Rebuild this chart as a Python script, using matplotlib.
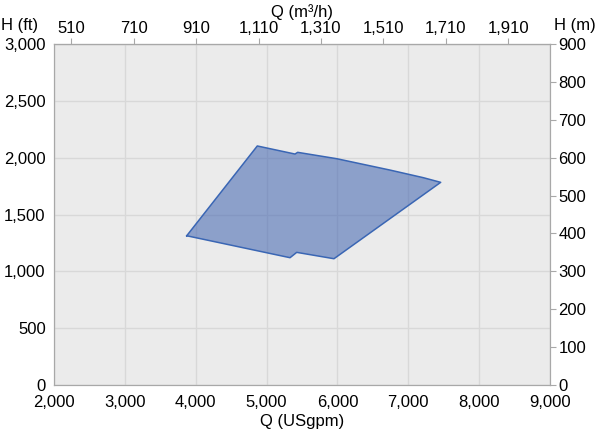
import matplotlib
matplotlib.use("Agg")
import matplotlib.pyplot as plt
from matplotlib.ticker import FuncFormatter

plt.rcParams["font.family"] = ["Liberation Sans", "DejaVu Sans"]

# envelope outline, Q in USgpm, H in ft
flow_gpm = [3873, 4869, 5401, 5439, 5990, 6742, 7212, 7457, 5951, 5425, 5331, 3873]
head_ft = [1313, 2103, 2032, 2047, 1991, 1891, 1824, 1783, 1111, 1167, 1120, 1313]

x_ticks = [2000, 3000, 4000, 5000, 6000, 7000, 8000, 9000]
y_ticks = [0, 500, 1000, 1500, 2000, 2500, 3000]
top_ticks = [510, 710, 910, 1110, 1310, 1510, 1710, 1910]
right_ticks = [0, 100, 200, 300, 400, 500, 600, 700, 800, 900]
GPM_PER_M3H = 4.4029

comma = FuncFormatter(lambda v, p: f"{v:,.0f}")
grey = "#a8a8a8"

fig = plt.figure(figsize=(6, 4.32), dpi=100)
ax = fig.add_axes([0.09, 0.1088, 0.8267, 0.7893])
ax.set_facecolor("#ebebeb")
ax.set_xlim(2000, 9000)
ax.set_ylim(0, 3000)
ax.set_xticks(x_ticks)
ax.set_yticks(y_ticks)
ax.xaxis.set_major_formatter(comma)
ax.yaxis.set_major_formatter(comma)
ax.grid(True, color="#d8d8d8", linewidth=1)
ax.set_axisbelow(True)
ax.tick_params(axis="y", length=0, labelsize=12, pad=6)
ax.tick_params(axis="x", length=0, labelsize=12, pad=7)
for s in ax.spines.values():
    s.set_color(grey)
ax.fill(flow_gpm, head_ft, facecolor="#3f63b0", alpha=0.55, zorder=3)
ax.plot(flow_gpm, head_ft, color="#3a66b4", linewidth=1.1, zorder=4)
ax.set_xlabel("Q (USgpm)", fontsize=12, labelpad=3)

# top axis in m3/h
top = ax.secondary_xaxis("top", functions=(lambda q: q / GPM_PER_M3H, lambda m: m * GPM_PER_M3H))
top.set_xticks(top_ticks)
top.xaxis.set_major_formatter(comma)
top.tick_params(length=4, color=grey, labelsize=12, pad=2)
top.spines["top"].set_color(grey)
top.set_xlabel("Q (m³/h)", fontsize=12, labelpad=3)

# right axis in m
right = ax.twinx()
right.set_ylim(0, 900)
right.set_yticks(right_ticks)
right.tick_params(length=4, color=grey, labelsize=12, pad=2)
for s in right.spines.values():
    s.set_color(grey)

fig.text(0.033, 0.94, "H (ft)", fontsize=12, ha="center", va="center")
fig.text(0.958, 0.94, "H (m)", fontsize=12, ha="center", va="center")

fig.savefig("out.png", dpi=100)
